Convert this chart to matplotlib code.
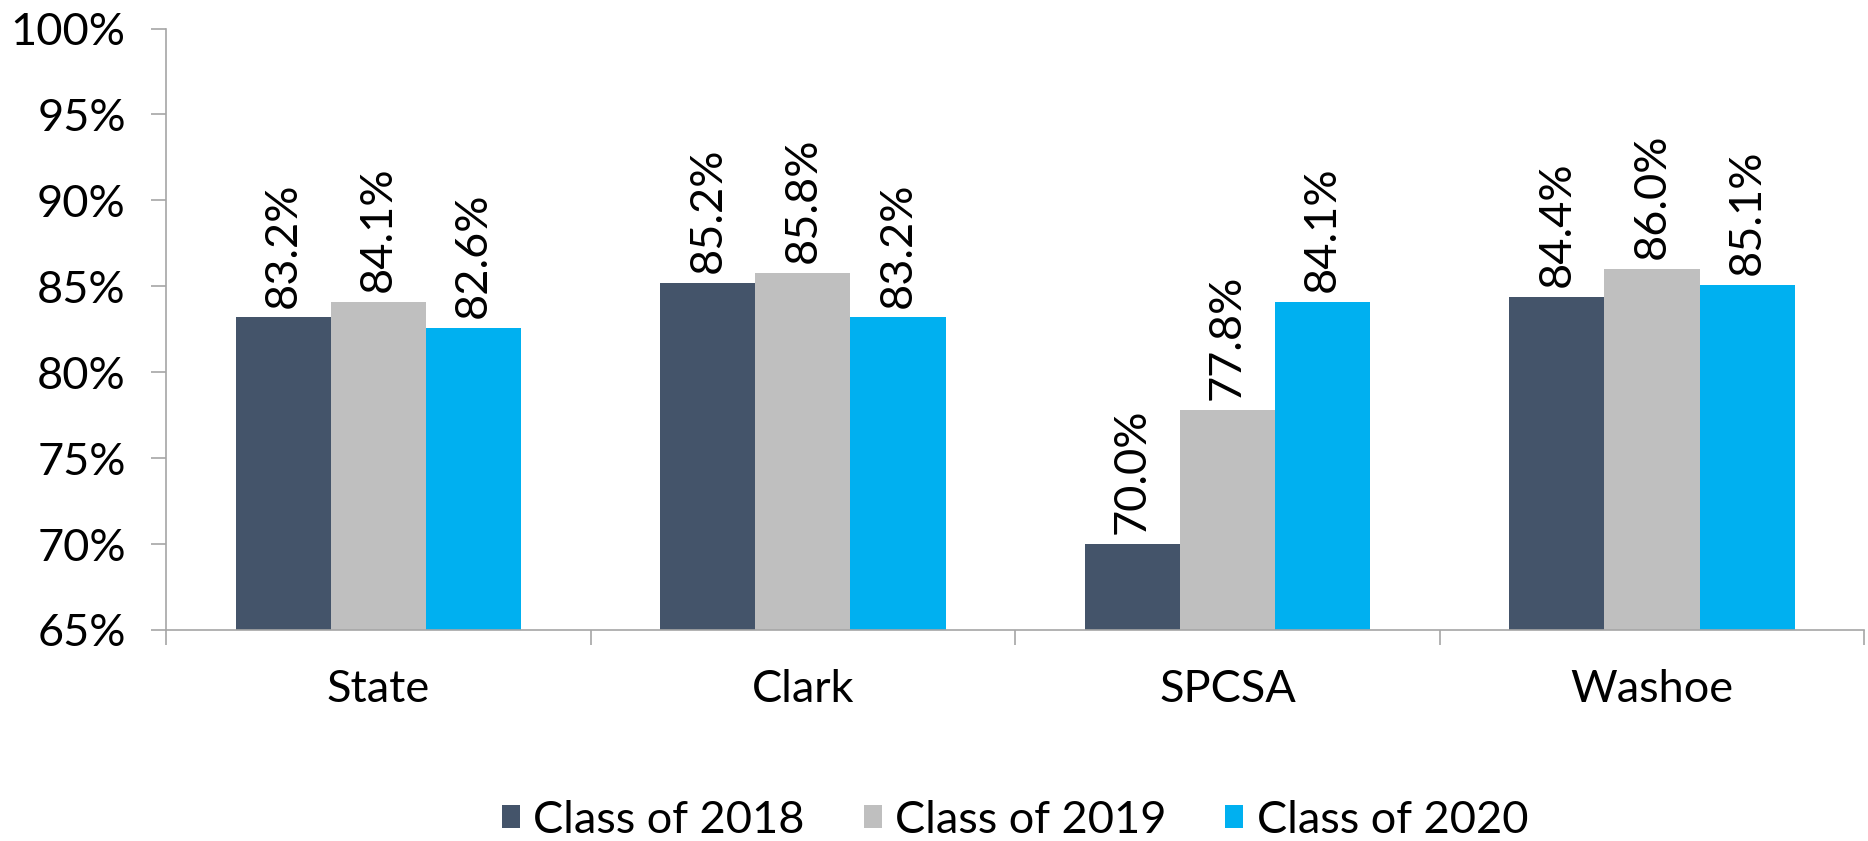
"""Graduation rates by district, classes of 2018-2020."""
import matplotlib
matplotlib.use("Agg")
import matplotlib.pyplot as plt
import numpy as np
from matplotlib.ticker import FixedLocator

plt.rcParams["font.family"] = ["Lato", "DejaVu Sans"]

categories = ["State", "Clark", "SPCSA", "Washoe"]
series_names = ["Class of 2018", "Class of 2019", "Class of 2020"]
class_2018 = [83.2, 85.2, 70.0, 84.4]
class_2019 = [84.1, 85.8, 77.8, 86.0]
class_2020 = [82.6, 83.2, 84.1, 85.1]
colors = ["#44546A", "#BFBFBF", "#00B0F0"]
yticks = [65, 70, 75, 80, 85, 90, 95, 100]

FS = 32.5

fig = plt.figure(figsize=(18.68, 8.41), dpi=100)
ax = fig.add_axes([0.0889, 0.251, 0.9091, 0.715])

x = np.arange(len(categories))
w = 0.224
for i, (vals, name, c) in enumerate(zip([class_2018, class_2019, class_2020],
                                        series_names, colors)):
    pos = x + (i - 1) * w
    ax.bar(pos, np.array(vals) - 65, bottom=65, width=w, color=c, label=name,
           zorder=2)
    for px, v in zip(pos, vals):
        ax.annotate(f"{v:.1f}%", (px, v), xytext=(0, 7), textcoords="offset points",
                    rotation=90, ha="center", va="bottom", fontsize=FS)

ax.set_xlim(-0.5, len(categories) - 0.5)
ax.set_ylim(65, 100)
ax.set_yticks(yticks)
ax.set_yticklabels([f"{t}%" for t in yticks], fontsize=FS)
ax.set_xticks(x)
ax.set_xticklabels(categories, fontsize=FS)
ax.xaxis.set_minor_locator(FixedLocator(np.arange(len(categories) + 1) - 0.5))
ax.tick_params(axis="x", which="major", length=0, pad=28)
ax.tick_params(axis="x", which="minor", length=11, color="#A6A6A6", width=1.2)
ax.tick_params(axis="y", length=11, color="#A6A6A6", width=1.2, pad=18)

for s in ["top", "right"]:
    ax.spines[s].set_visible(False)
for s in ["left", "bottom"]:
    ax.spines[s].set_color("#A6A6A6")
    ax.spines[s].set_linewidth(1.2)

ax.legend(loc="upper center", bbox_to_anchor=(0.5, -0.215), ncol=3, frameon=False,
          fontsize=FS, handlelength=0.4, handleheight=0.4, handletextpad=0.3,
          columnspacing=1.3)

fig.savefig("out.png", dpi=100)
